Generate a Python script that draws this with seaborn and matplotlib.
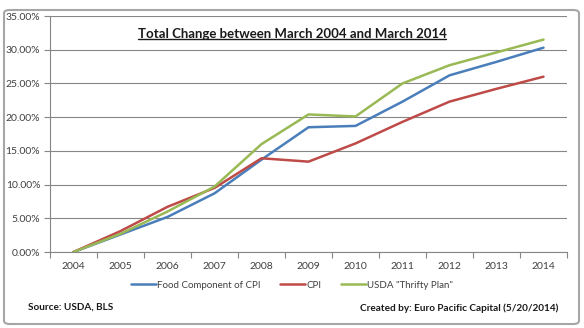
import matplotlib
matplotlib.use("Agg")
import matplotlib.pyplot as plt
from matplotlib.lines import Line2D
from matplotlib.patches import FancyBboxPatch
from matplotlib.ticker import FuncFormatter, FixedLocator, NullFormatter
import seaborn as sns
import pandas as pd

years = [2004, 2005, 2006, 2007, 2008, 2009, 2010, 2011, 2012, 2013, 2014]
food_cpi = [0.0, 2.6, 5.2, 8.7, 13.7, 18.5, 18.7, 22.3, 26.2, 28.2, 30.3]
cpi = [0.0, 3.1, 6.7, 9.5, 13.9, 13.4, 16.1, 19.3, 22.3, 24.2, 26.0]
thrifty = [0.0, 2.7, 6.0, 9.7, 16.0, 20.4, 20.1, 25.0, 27.7, 29.6, 31.5]
series_names = ["Food Component of CPI", "CPI", 'USDA "Thrifty Plan"']
colors = ["#4A7EBB", "#BE4B48", "#98B954"]

df = pd.DataFrame({
    "year": years * 3,
    "value": food_cpi + cpi + thrifty,
    "series": sum([[n] * len(years) for n in series_names], []),
})

sns.set_theme(style="white")
plt.rcParams["font.family"] = ["Lato", "DejaVu Sans"]

fig = plt.figure(figsize=(5.84, 3.28), dpi=100)
fig.patch.set_facecolor("white")
border = FancyBboxPatch((4 / 584, 4 / 328), 575 / 584, 314 / 328,
                        boxstyle="round,pad=0,rounding_size=0.01",
                        transform=fig.transFigure, facecolor="none",
                        edgecolor="#A6A6A6", linewidth=1.5, zorder=-1)
fig.patches.append(border)

ax = fig.add_axes([50 / 584, 1 - 252 / 328, 517 / 584, 236 / 328])
ax.set_facecolor("none")
sns.lineplot(data=df, x="year", y="value", hue="series", palette=colors,
             hue_order=series_names, linewidth=1.8, ax=ax, legend=False)

ax.set_xlim(2003.5, 2014.5)
ax.set_ylim(0, 35)
ax.set_yticks([0, 5, 10, 15, 20, 25, 30, 35])
ax.yaxis.set_major_formatter(FuncFormatter(lambda v, p: f"{v:.2f}%"))
ax.set_xticks(years)
ax.set_xticklabels([str(y) for y in years])
ax.xaxis.set_minor_locator(FixedLocator([y + 0.5 for y in range(2003, 2015)]))
ax.xaxis.set_minor_formatter(NullFormatter())
ax.tick_params(axis="x", which="major", length=0, pad=7, labelsize=7.5, colors="#404040")
ax.tick_params(axis="x", which="minor", length=4, width=0.8, color="#868686", direction="out", bottom=True)
ax.tick_params(axis="y", which="major", length=4, width=0.8, color="#868686", direction="out",
               left=True, labelsize=7.5, pad=3, labelcolor="#404040")
ax.grid(axis="y", color="#868686", linewidth=0.8)
ax.set_axisbelow(True)
for s in ["top", "right"]:
    ax.spines[s].set_visible(False)
for s in ["left", "bottom"]:
    ax.spines[s].set_color("#868686")
    ax.spines[s].set_linewidth(0.8)
ax.set_xlabel("")
ax.set_ylabel("")

title = fig.text(0.5, 1 - 34 / 328, "Total Change between March 2004 and March 2014",
                 ha="center", va="center", fontsize=9.5, fontweight="bold", color="#1a1a1a")

handles = [Line2D([], [], color=c, linewidth=1.8) for c in colors]
fig.legend(handles, series_names, loc="center", bbox_to_anchor=(0.5, 1 - 285 / 328),
           ncol=3, frameon=False, fontsize=7, handlelength=2.6, handletextpad=0.1,
           columnspacing=2.0, labelcolor="#404040")

fig.text(28 / 584, 1 - 307 / 328, "Source: USDA, BLS", ha="left", va="center",
         fontsize=7.2, fontweight="bold", color="#1a1a1a")
fig.text(558 / 584, 1 - 308 / 328, "Created by: Euro Pacific Capital (5/20/2014)", ha="right",
         va="center", fontsize=7.2, fontweight="bold", color="#1a1a1a")

fig.canvas.draw()
bb = title.get_window_extent().transformed(fig.transFigure.inverted())
fig.add_artist(Line2D([bb.x0, bb.x1], [bb.y0 + 0.002, bb.y0 + 0.002], transform=fig.transFigure,
                      color="#1a1a1a", linewidth=1.0))

fig.savefig("out.png", dpi=100, facecolor="white")
